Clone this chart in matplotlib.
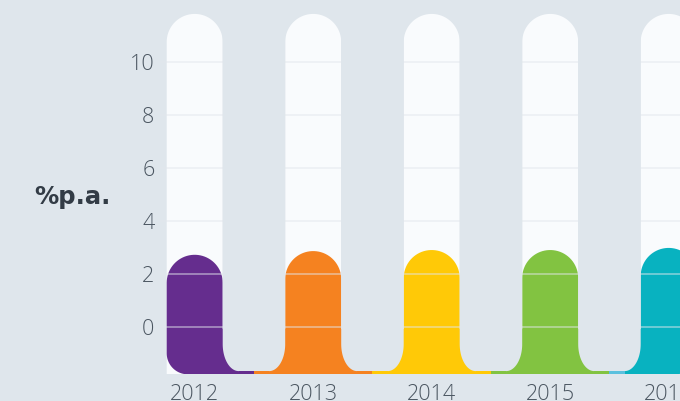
import numpy as np
import matplotlib
matplotlib.use('Agg')
import matplotlib.pyplot as plt
from matplotlib.patches import Polygon, Rectangle

years = ['2012', '2013', '2014', '2015', '2016']
values = [2.72, 2.86, 2.90, 2.90, 2.98]
bar_colors = ['#652d8e', '#f58220', '#ffc907', '#82c341', '#08b2c0']
line_colors = ['#652d8e', '#f58220', '#ffc907', '#82c341', '#5bc0de']
yticks = [0, 2, 4, 6, 8, 10]
track_max = 11.83

BG = '#dfe6ec'
TRACK = '#f9fbfd'
W, H = 680, 401


def arc(cx, cy, rx, ry, t0, t1, n=40):
    """ Points on an elliptical arc, angles in degrees
    """
    t = np.radians(np.linspace(t0, t1, n))
    return np.column_stack([cx + rx*np.cos(t), cy + ry*np.sin(t)])


fig = plt.figure(figsize=(W/100, H/100), dpi=100)
fig.patch.set_facecolor(BG)
ax_left, ax_bot = 160, 401 - 374.3
ax = fig.add_axes([ax_left/W, ax_bot/H, 1 - ax_left/W, 1 - ax_bot/H])
ax.set_facecolor(BG)
xlim = (-(194.7 - ax_left)/118.5, (W - 194.7)/118.5)
ylim = (-1.80, 12.356)
ax.set_xlim(*xlim)
ax.set_ylim(*ylim)

# pixels per data unit, so the round caps come out as circles
sx = (W - ax_left)/(xlim[1] - xlim[0])
sy = (H - ax_bot)/(ylim[1] - ylim[0])
ybot = ylim[0]
hw = 28/sx
rty = 28/sy
n = len(years)
xs = np.arange(n)

# white tracks
for c in xs:
    pts = np.vstack([[c - hw, ybot],
                     arc(c, track_max - rty, hw, rty, 180, 0),
                     [c + hw, ybot]])
    ax.add_patch(Polygon(pts, closed=True, fc=TRACK, ec='none', zorder=1))

# coloured bars with a base strip
rcx, rcy = 21/sx, 21/sy
for i, (c, v) in enumerate(zip(xs, values)):
    x0, x1 = c - hw, c + hw
    if i == 0:
        left = arc(x0 + rcx, ybot + rcy, rcx, rcy, 270, 180)
    else:
        left = np.array([[x0, ybot]])
    if i == n - 1:
        right = arc(x1 - rcx, ybot + rcy, rcx, rcy, 360, 270)
    else:
        right = np.array([[x1, ybot]])
    pts = np.vstack([left, arc(c, v - rty, hw, rty, 180, 0), right])
    ax.add_patch(Polygon(pts, closed=True, fc=bar_colors[i], ec='none',
                         zorder=2))
    sl = c - 0.5 if i > 0 else c
    sr = c + 0.5 if i < n - 1 else c
    ax.add_patch(Rectangle((sl, ybot), sr - sl, 45/sy, fc=bar_colors[i],
                           ec='none', zorder=2))

# background notches between bars, leaving a thin line at the bottom
yb = ybot + 3.2/sy
ux, uy = 16/sx, 27/sy
for i in range(n - 1):
    gx0, gx1 = xs[i] + hw, xs[i + 1] - hw
    pts = np.vstack([[gx0, ylim[1]],
                     arc(gx0 + ux, yb + uy, ux, uy, 180, 270),
                     arc(gx1 - ux, yb + uy, ux, uy, 270, 360),
                     [gx1, ylim[1]]])
    ax.add_patch(Polygon(pts, closed=True, fc=BG, ec='none', zorder=3))
    mid = xs[i] + 0.5
    ax.add_patch(Rectangle((gx0 + ux, ybot), mid - gx0 - ux, yb - ybot,
                           fc=line_colors[i], ec='none', zorder=3))
    ax.add_patch(Rectangle((mid, ybot), gx1 - ux - mid, yb - ybot,
                           fc=line_colors[i + 1], ec='none', zorder=3))

for s in ax.spines.values():
    s.set_visible(False)
ax.set_yticks(yticks)
ax.set_xticks(xs)
ax.set_xticklabels(years)
ax.yaxis.grid(True, color='#e2e7ec', alpha=0.6, lw=1.1)
ax.set_axisbelow(False)
for a in (ax.xaxis, ax.yaxis):
    a.set_tick_params(length=0)
ax.tick_params(axis='y', pad=4)
ax.tick_params(axis='x', pad=7)
for lab in ax.get_xticklabels() + ax.get_yticklabels():
    lab.set_fontfamily('Open Sans')
    lab.set_fontsize(15.5)
    lab.set_fontweight('light')
    lab.set_color('#4b5661')

fig.text(34/W, 1 - 197/H, '%p.a.', ha='left', va='center', fontsize=17.5,
         fontweight='bold', family='DejaVu Sans', color='#333c46')

fig.savefig('out.png', dpi=100, facecolor=BG)
